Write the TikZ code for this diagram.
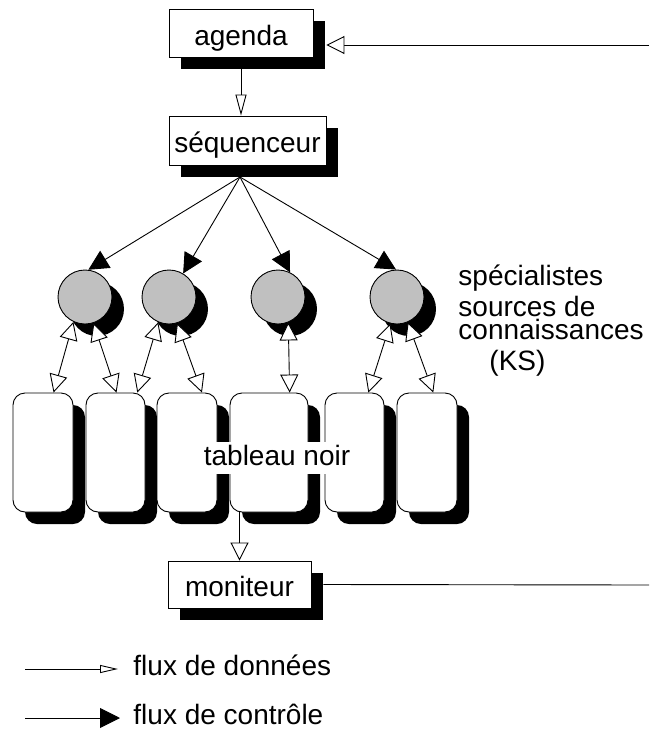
\documentclass[tikz,border=0pt]{standalone}
\usepackage{fontspec}
\setmainfont{Liberation Sans}
\usepackage{xcolor}
\usepackage{tikz}
\usetikzlibrary{shapes, arrows.meta, shadows, calc}

\definecolor{ksgray}{RGB}{192,192,192}

\begin{document}
\begin{tikzpicture}[x=1pt, y=-1pt, line width=0.9pt,
        font=\fontsize{28}{32}\selectfont,
        blackshadow/.style={drop shadow={shadow xshift=12pt, shadow yshift=-12pt, fill=black, opacity=1}},
        box/.style={rectangle, draw, fill=white, inner sep=0pt, text height=24pt, text depth=0pt, blackshadow},
        ks/.style={circle, draw, fill=ksgray, minimum size=54pt, inner sep=0pt, blackshadow},
        board/.style={rectangle, draw, fill=white, rounded corners=12pt, minimum width=60pt, minimum height=119pt, inner sep=0pt, blackshadow},
        data/.style={-{Triangle[fill=white, length=18pt, width=18pt]}},
        data both/.style={{Triangle[fill=white, length=18pt, width=18pt]}-{Triangle[fill=white, length=18pt, width=18pt]}},
        ctrl/.style={-{Triangle[length=20pt, width=20pt]}},
        note/.style={anchor=base west, inner sep=0pt}]
        \useasboundingbox (0,0) rectangle (649,731);

        % Nodes
        \node [box, minimum width=144pt, minimum height=48pt] (agenda) at (241,33) {agenda};
        \node [box, minimum width=157pt, minimum height=49pt] (seq) at (247.5,140.5) {séquenceur};
        \node [ks] (ks1) at (85,297) {};
        \node [ks] (ks2) at (169,297) {};
        \node [ks] (ks3) at (278,297) {};
        \node [ks] (ks4) at (397,297) {};
        \node [board] (tb1) at (43,452.5) {};
        \node [board, minimum width=59pt] (tb2) at (115.5,452.5) {};
        \node [board] (tb3) at (187,452.5) {};
        \node [board, minimum width=78pt] (tb4) at (269,452.5) {};
        \node [board, minimum width=59pt] (tb5) at (354.5,452.5) {};
        \node [board] (tb6) at (427,452.5) {};
        \node [fill=white, inner sep=3pt, text height=20pt, text depth=6pt] (tableau) at (277,458) {tableau noir};
        \node [box, minimum width=143pt, minimum height=47pt] (moniteur) at (239.5,584.5) {moniteur};

        % Labels
        \node [note] (spec) at (458,285) {spécialistes};
        \node [note, anchor=north west, align=left, font=\fontsize{28}{23}\selectfont] (sources) at (458,296) {sources de\\connaissances};
        \node [note] (kslabel) at (489,370) {(KS)};
        \node [note] (ldata) at (133,675) {flux de données};
        \node [note] (lctrl) at (133,724) {flux de contrôle};

        % Free ends
        \coordinate (ctrlin) at (649,45);
        \coordinate (monout) at (649,585);
        \coordinate (hub) at (240,177);
        \coordinate (ldata a) at (25,669);
        \coordinate (ldata b) at (118,669);
        \coordinate (lctrl a) at (25,718);
        \coordinate (lctrl b) at (120,718);

        % Arrows
        \path [draw, data] (ctrlin) -- ($(agenda.east |- ctrlin)+(13,0)$);
        \path [draw, -{Triangle[fill=white, length=21pt, width=11pt]}] (agenda.south) -- (agenda.south |- seq.north);
        \path [draw, ctrl] (hub) -- (ks1.83);
        \path [draw, ctrl] (hub) -- (ks2.59);
        \path [draw, ctrl] (hub) -- (ks3.64);
        \path [draw, ctrl] (hub) -- (ks4.92);
        \path [draw, data both] (ks1.245) -- (tb1.80);
        \path [draw, data both] (ks1.288) -- (tb2.89);
        \path [draw, data both] (ks2.247) -- (tb2.70);
        \path [draw, data both] (ks2.287) -- (tb3.76);
        \path [draw, data both] (ks3.292) -- (tb4.71);
        \path [draw, data both] (ks4.256) -- (tb5.77);
        \path [draw, data both] (ks4.293) -- (tb6.84);
        \path [draw, data] (moniteur.north |- tb4.south) -- (moniteur.north);
        \path [draw] ($(moniteur.east)+(12,0)$) -- (monout);

        % Legend
        \path [draw, -{Triangle[fill=white, length=18pt, width=8pt]}] (ldata a) -- (ldata b);
        \path [draw, ctrl] (lctrl a) -- (lctrl b);
    \end{tikzpicture}
\end{document}
